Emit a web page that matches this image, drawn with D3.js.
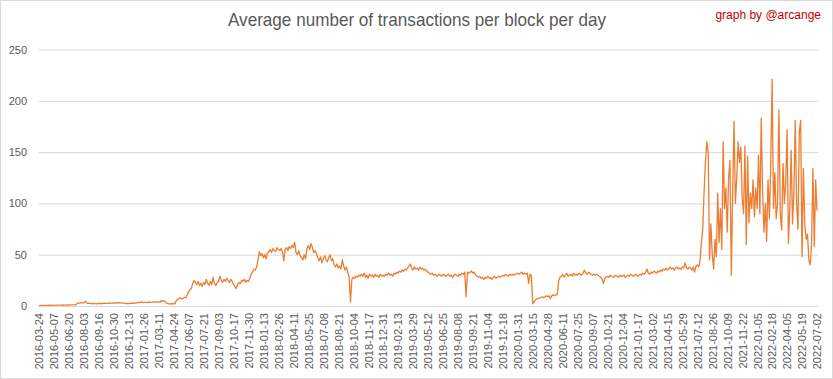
<!DOCTYPE html>
<html><head><meta charset="utf-8">
<script src="https://cdn.jsdelivr.net/npm/d3@7"></script>
<style>html,body{margin:0;padding:0;background:#fff;} svg{display:block;}</style>
</head><body>
<svg id="chart" width="833" height="379"></svg>
<script>
const chartTitle = "Average number of transactions per block per day";
const credit = "graph by @arcange";
const yTicks = [0, 50, 100, 150, 200, 250];
const dateLabels = [
  "2016-03-24","2016-05-07","2016-06-20","2016-08-03","2016-09-16","2016-10-30","2016-12-13",
  "2017-01-26","2017-03-11","2017-04-24","2017-06-07","2017-07-21","2017-09-03","2017-10-17","2017-11-30",
  "2018-01-13","2018-02-26","2018-04-11","2018-05-25","2018-07-08","2018-08-21","2018-10-04","2018-11-17","2018-12-31",
  "2019-02-13","2019-03-29","2019-05-12","2019-06-25","2019-08-08","2019-09-21","2019-11-04","2019-12-18",
  "2020-01-31","2020-03-15","2020-04-28","2020-06-11","2020-07-25","2020-09-07","2020-10-21","2020-12-04",
  "2021-01-17","2021-03-02","2021-04-15","2021-05-29","2021-07-12","2021-08-26","2021-10-09","2021-11-22",
  "2022-01-05","2022-02-18","2022-04-05","2022-05-19","2022-07-02"
];
const daysPerLabel = 44;   // one label every 44 daily categories
const daysPerSample = 4;   // values below are read every 4th day

const avgTxPerBlock = [
  // 2016-03 .. 2016-07
  0.4,0.5,0.6,0.6,0.7,0.6,0.7,0.8,0.7,0.8,
  0.8,0.7,0.8,0.9,0.8,0.9,0.8,0.9,1.0,0.9,
  0.9,1.0,0.9,1.0,1.1,1.0,1.0,1.1,
  // 2016-07 .. 2017-04
  2.5,3.0,2.8,3.2,2.9,3.1,4.8,3.0,2.6,2.8,
  2.4,2.2,2.5,2.3,2.1,2.4,2.6,2.2,2.5,2.4,
  2.7,2.5,2.6,2.8,2.7,2.9,3.1,2.8,3.0,3.2,
  2.9,3.3,3.0,3.1,2.8,2.6,2.4,2.5,2.3,2.6,
  2.8,2.7,3.0,2.8,3.2,3.5,3.1,4.2,3.6,3.4,
  3.8,3.5,3.3,4.0,3.7,3.5,3.9,4.1,3.8,4.3,
  4.0,3.6,5.5,4.6,5.0,4.2,2.6,2.2,2.0,2.3,
  2.1,2.4,2.2,
  // 2017-05 .. 2018-01
  5.5,6.5,7.2,8.0,6.8,7.5,8.5,7.8,
  11,14,16,17,
  22,25,23,
  21,24,20,22,19,23,21,26,22,20,24,21,28,22,20,23,
  24,29,25,23,26,24,27,25,23,26,24,
  21,19,17,21,
  23,22,25,24,26,23,25,24,27,
  31,33,
  36,35,38,45,
  53,49,51,
  // 2018
  47,50,46,52,
  53,55,52,56,54,53,57,55,54,56,53,
  44,
  55,57,54,58,56,59,57,
  62,
  52,50,54,49,
  47,45,50,46,
  56,59,55,61,57,
  52,54,51,
  47,44,48,42,46,49,45,43,47,50,44,46,
  40,38,41,37,39,36,45,
  39,35,38,33,28,
  4,
  // 2018-10 .. 2020-03
  26,28,27,29,28,30,29,
  31,29,32,28,30,27,31,29,30,28,31,
  29,30,28,31,29,30,29,31,30,32,30,31,29,32,31,33,32,34,
  33,35,34,36,35,37,39,
  41,
  37,35,38,36,37,35,38,36,37,35,36,34,33,
  32,31,32,30,31,
  30,29,31,30,29,31,30,29,30,31,29,30,28,30,31,30,29,31,30,
  32,31,33,
  9,
  33,32,33,34,32,33,
  30,29,28,29,
  27,28,26,28,27,29,27,28,26,28,29,27,28,29,28,
  29,30,29,31,30,29,31,30,31,30,31,
  31,32,31,32,33,31,32,31,32,
  22,31,30,
  2,
  // 2020-03 .. 2021-07
  4,6,7,7,8,8,9,8,9,10,9,10,7,
  10,11,10,11,11,
  24,28,
  29,31,28,30,32,29,30,31,29,32,30,31,30,32,31,
  30,32,35,32,31,33,
  32,31,30,31,30,31,30,29,
  28,26,22,27,28,
  29,28,30,29,28,29,30,29,28,30,29,29,30,28,29,30,29,31,30,29,30,31,29,30,31,
  30,32,31,33,36,32,31,33,32,34,33,32,34,33,35,
  34,36,35,37,35,36,38,36,37,35,37,38,36,
  37,36,38,37,42,37,36,38,37,
  35,38,33,39,40,38,
  // 2021-07 .. 2022-07
  44,62,75,112,141,160,150,45,80,50,
  36,65,48,110,62,95,55,160,95,115,
  72,125,142,30,110,180,100,125,160,140,
  155,105,90,156,60,146,81,110,95,123,
  87,115,95,147,90,183,113,72,100,63,
  123,85,139,221,95,130,85,100,191,90,
  74,139,100,120,172,61,95,152,80,110,
  181,100,75,170,181,48,134,80,65,70,
  45,40,60,134,58,123,93
];

const W = 833, H = 379;
const plot = {left: 39, right: 818, top: 49.5, bottom: 306};
const svg = d3.select("#chart");

svg.append("rect")
  .attr("x", 0.5).attr("y", 0.5).attr("width", W - 1).attr("height", H - 1)
  .attr("fill", "#fff").attr("stroke", "#d9d9d9");

const lastDay = (dateLabels.length - 1) * daysPerLabel;
const x = d3.scaleLinear().domain([0, lastDay]).range([plot.left, 817]);
const y = d3.scaleLinear().domain([0, 250]).range([plot.bottom, plot.top]);

// Y axis + gridlines
const gy = svg.append("g")
  .attr("transform", `translate(${plot.left},0)`)
  .call(d3.axisLeft(y).tickValues(yTicks).tickSize(-(plot.right - plot.left)).tickPadding(12));
gy.select(".domain").remove();
gy.selectAll(".tick line").attr("stroke", "#d9d9d9").attr("stroke-width", 1);
gy.selectAll(".tick text")
  .attr("fill", "#595959")
  .style("font-family", "'Liberation Sans', Arial, sans-serif")
  .style("font-size", "11px");

// X axis with rotated labels
const gx = svg.append("g")
  .attr("transform", `translate(0,${plot.bottom})`)
  .call(d3.axisBottom(x)
    .tickValues(dateLabels.map((d, j) => j * daysPerLabel))
    .tickFormat(v => dateLabels[Math.round(v / daysPerLabel)])
    .tickSize(0));
gx.select(".domain").remove();
gx.selectAll(".tick text")
  .attr("x", -7).attr("y", 0).attr("dy", "0.35em")
  .attr("transform", "rotate(-90)")
  .style("text-anchor", "end")
  .attr("fill", "#595959")
  .style("font-family", "'Liberation Sans', Arial, sans-serif")
  .style("font-size", "11px");

// Line
const line = d3.line()
  .x((d, k) => x(k * daysPerSample))
  .y(d => y(d));
svg.append("path")
  .datum(avgTxPerBlock)
  .attr("fill", "none")
  .attr("stroke", "#ED7D31")
  .attr("stroke-width", 1.3)
  .attr("stroke-linejoin", "round")
  .attr("d", line);

// Title and credit
svg.append("text")
  .attr("x", 417).attr("y", 26)
  .attr("text-anchor", "middle")
  .attr("fill", "#595959")
  .attr("textLength", 378).attr("lengthAdjust", "spacingAndGlyphs")
  .style("font-family", "'Liberation Sans Narrow', 'Liberation Sans', Arial, sans-serif")
  .style("font-size", "18.5px")
  .text(chartTitle);

svg.append("text")
  .attr("x", 821).attr("y", 19)
  .attr("text-anchor", "end")
  .attr("fill", "#C00000")
  .style("font-family", "'Liberation Sans', Arial, sans-serif")
  .style("font-size", "12px")
  .text(credit);
</script>
</body></html>
